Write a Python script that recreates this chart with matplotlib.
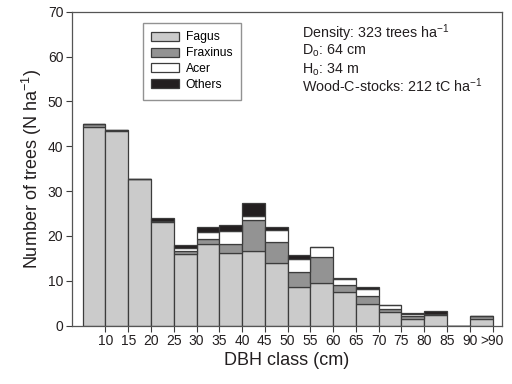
import numpy as np
import matplotlib.pyplot as plt

plt.rcParams['font.family'] = ['Liberation Sans', 'DejaVu Sans']
plt.rcParams['mathtext.fontset'] = 'custom'
plt.rcParams['mathtext.rm'] = 'Liberation Sans'
plt.rcParams['mathtext.it'] = 'Liberation Sans'

# DBH classes (tick labels sit on the upper edge of each class)
tick_labels = ["10", "15", "20", "25", "30", "35", "40", "45", "50",
               "55", "60", "65", "70", "75", "80", "85", "90", ">90"]

fagus    = [44.4, 43.3, 32.7, 23.1, 16.0, 18.1, 16.1, 16.6, 13.9, 8.6, 9.5, 7.4, 4.8, 3.1, 1.5, 2.3, 0.0, 1.5]
fraxinus = [0.5, 0.4, 0.0, 0.2, 0.6, 1.2, 2.0, 7.0, 4.8, 3.3, 5.9, 1.7, 1.8, 0.5, 0.7, 0.2, 0.0, 0.6]
acer     = [0.0, 0.0, 0.0, 0.0, 0.6, 1.5, 3.0, 0.9, 2.6, 3.0, 2.1, 1.2, 1.6, 0.9, 0.3, 0.0, 0.0, 0.0]
others   = [0.0, 0.0, 0.0, 0.7, 0.8, 1.2, 1.3, 2.9, 0.6, 0.8, 0.0, 0.4, 0.5, 0.0, 0.3, 0.8, 0.0, 0.0]

species = ["Fagus", "Fraxinus", "Acer", "Others"]
colors = ["#cbcbcb", "#939393", "#ffffff", "#231f20"]

x = np.arange(len(fagus))
series = [np.array(fagus), np.array(fraxinus), np.array(acer), np.array(others)]

fig = plt.figure(figsize=(5.12, 3.84), dpi=100)
ax = fig.add_axes([0.140, 0.152, 0.8395, 0.8175])

bottom = np.zeros(len(x))
for name, vals, c in zip(species, series, colors):
    ax.bar(x, vals, width=1.0, bottom=bottom, color=c, edgecolor="#3c3c3c",
           linewidth=0.9, label=name)
    bottom = bottom + vals

ax.set_xlim(-0.983, 17.895)
ax.set_ylim(0, 70)
ax.set_xticks(x + 0.5)
ax.set_xticklabels(tick_labels)
ax.set_yticks(np.arange(0, 71, 10))
ax.tick_params(direction="out", length=4, width=0.8, colors="#3c3c3c",
               labelsize=10, labelcolor="#231f20", pad=2)
for s in ax.spines.values():
    s.set_color("#555555")
    s.set_linewidth(0.9)

ax.set_xlabel("DBH class (cm)", fontsize=13, color="#231f20", labelpad=3)
ax.set_ylabel("Number of trees (N ha$^{-1}$)", fontsize=13, color="#231f20", labelpad=3)

leg = ax.legend(loc="upper left", bbox_to_anchor=(0.165, 0.965), borderaxespad=0,
                fontsize=8.7, frameon=True, fancybox=False, edgecolor="#777777",
                handlelength=2.3, handleheight=0.78, labelspacing=0.32,
                borderpad=0.72, handletextpad=0.55)
leg.get_frame().set_linewidth(1.0)

lines = ["Density: 323 trees ha$^{-1}$",
         "D$_\\mathrm{o}$: 64 cm",
         "H$_\\mathrm{o}$: 34 m",
         "Wood-C-stocks: 212 tC ha$^{-1}$"]
ypos = [0.915, 0.862, 0.804, 0.743]
for t, yy in zip(lines, ypos):
    ax.text(0.5365, yy, t, transform=ax.transAxes, fontsize=10.3,
            color="#231f20", va="baseline", ha="left")

fig.savefig("out.png", dpi=100)
